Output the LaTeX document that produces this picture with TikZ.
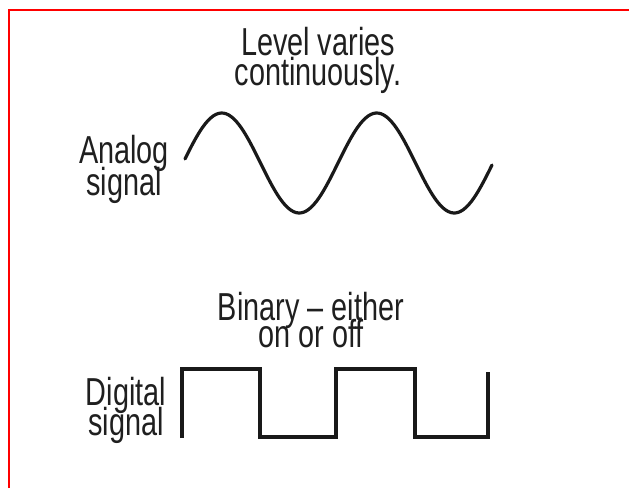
\documentclass[tikz,border=0pt]{standalone}
\usepackage{fontspec}
\setmainfont{Liberation Sans}[FakeStretch=0.74]
\newcommand\lblfont[1]{\fontsize{39}{#1}\selectfont\lineskiplimit=-100pt\relax}
\begin{document}
\begin{tikzpicture}[x=1pt,y=-1pt,
  lbl/.style={inner sep=0pt, anchor=base, align=center, text=black!88},
  wave/.style={line width=3.2pt, black!90, line join=miter},
  frame/.style={line width=2pt, red}]
\useasboundingbox (0,0) rectangle (629,488);
% red frame (top and left)
\draw[frame] (8.8,488) -- (8.8,10) -- (629,10);
% labels (anchor = baseline of the last line)
\node[lbl, font=\lblfont{30}] (level) at (318,85) {Level varies\\continuously.};
\node[lbl, font=\lblfont{32}] (analog) at (124,195) {Analog\\signal};
\node[lbl, font=\lblfont{27}] (binary) at (311,347) {Binary -- either\\on or off};
\node[lbl, font=\lblfont{30}] (digital) at (126,435) {Digital\\signal};
% analog wave
\draw[wave, line cap=round, smooth, samples=120, domain=185:492, variable=\t]
  plot (\t, {163-50*sin((\t-183)*2.32258)});
% digital wave
\draw[wave] (182,438) -- (182,369) -- (260,369) -- (260,437) -- (336,437)
  -- (336,369) -- (415,369) -- (415,437) -- (488,437) -- (488,372);
\end{tikzpicture}
\end{document}
